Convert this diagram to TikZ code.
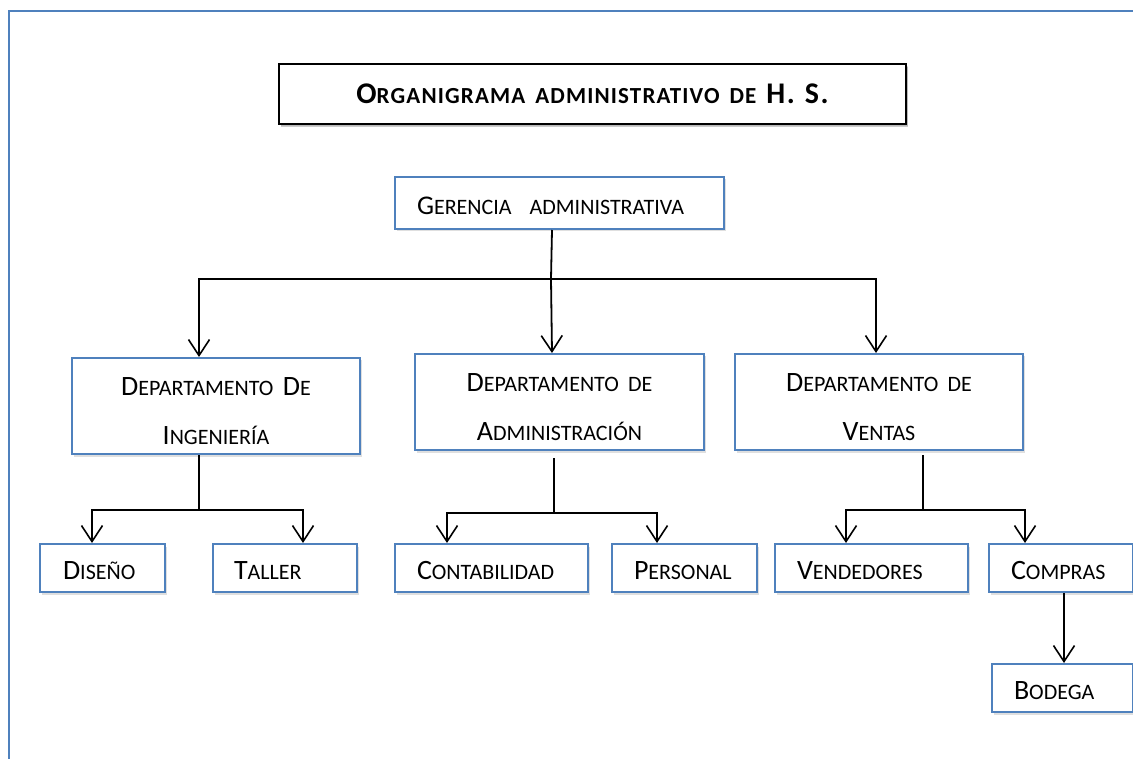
\documentclass[tikz,border=0pt]{standalone}
\usepackage{fontspec}
\setmainfont{Carlito}
\newfontfamily\titlefont{Carlito}[LetterSpace=5]
\usetikzlibrary{arrows.meta,shadows}
\definecolor{bblue}{RGB}{79,129,189}
\def\losz{22pt}
\newcommand\lo[1]{{\fontsize{\losz}{\losz}\selectfont #1}}
\tikzset{
  box/.style={draw=bblue, line width=2pt, fill=white,
    drop shadow={shadow xshift=1.5pt, shadow yshift=-2.5pt, opacity=.25},
    inner ysep=0pt, anchor=north west},
  titlebox/.style={box, draw=black, line width=2pt, inner xsep=0pt, align=center,
    font=\titlefont\bfseries\fontsize{30}{30}\selectfont\def\losz{23pt},
    text height=20pt, text depth=0pt, minimum height=60pt,
    drop shadow={shadow xshift=2pt, shadow yshift=-3pt, opacity=.4}},
  leaf/.style={box, align=left, text height=23pt, text depth=0pt, minimum height=48pt,
    font=\fontsize{28}{28}\selectfont\def\losz{22pt}},
  gerbox/.style={leaf, minimum height=52pt,
    font=\fontsize{27}{27}\selectfont\def\losz{22pt}},
  dept/.style={box, align=center, inner xsep=0pt, minimum height=96pt,
    font=\fontsize{28}{49}\selectfont\def\losz{22pt}},
  conn/.style={line width=1.8pt, black},
  arr/.style={conn, -{Straight Barb[length=16pt, width=21pt, line width=1.6pt]}}
}
\begin{document}
\begin{tikzpicture}[x=1pt, y=-1pt]
\useasboundingbox (0,0) rectangle (1133,759);
% outer frame
\draw[bblue, line width=2.6pt] (9,775) -- (9,11) -- (1150,11);

% title
\node[titlebox, text width=627pt] (tit) at (278,63) {O\lo{RGANIGRAMA ADMINISTRATIVO DE} H. S.};

% top
\node[gerbox, inner xsep=22pt, text width=285pt] (ger) at (394,176) {\mbox{G\lo{ERENCIA\ \ ADMINISTRATIVA}}};

% departments
\node[dept, text width=288pt] (ing) at (71,357) {\rule{0pt}{28pt}D\lo{EPARTAMENTO} D\lo{E}\\ I\lo{NGENIERÍA}};
\node[dept, text width=289pt] (adm) at (414,353) {\rule{0pt}{28pt}D\lo{EPARTAMENTO DE}\\ A\lo{DMINISTRACIÓN}};
\node[dept, text width=288pt] (ven) at (734,353) {\rule{0pt}{28pt}D\lo{EPARTAMENTO DE}\\ V\lo{ENTAS}};

% leaves
\node[leaf, inner xsep=23pt, text width=79pt] (dis) at (39,543) {\mbox{D\lo{ISEÑO}}};
\node[leaf, inner xsep=21pt, text width=102pt] (tal) at (212,543) {\mbox{T\lo{ALLER}}};
\node[leaf, inner xsep=22pt, text width=149pt] (con) at (394,543) {\mbox{C\lo{ONTABILIDAD}}};
\node[leaf, inner xsep=22pt, text width=101pt] (per) at (611,543) {\mbox{P\lo{ERSONAL}}};
\node[leaf, inner xsep=22pt, text width=149pt] (vnd) at (774,543) {\mbox{V\lo{ENDEDORES}}};
\node[leaf, inner xsep=22pt, text width=100pt] (com) at (988,543) {\mbox{C\lo{OMPRAS}}};
\node[leaf, inner xsep=22pt, text width=97pt] (bod) at (991,663) {\mbox{B\lo{ODEGA}}};

% connectors
\coordinate (b1) at (551,279);
\draw[conn] ([xshift=-7.5pt]ger.south) -- (b1);
\draw[arr] (b1) -| ([xshift=-17pt]ing.north);
\draw[arr] (b1) -- ([xshift=-7.5pt]adm.north);
\draw[arr] (b1) -| ([xshift=-3pt]ven.north);

\draw[conn] ([xshift=-17pt]ing.south) -- ++(0,55) coordinate (j1);
\draw[arr] (j1) -| ([xshift=-10.5pt]dis.north);
\draw[arr] (j1) -| ([xshift=18pt]tal.north);

\draw[conn] ([xshift=-5.5pt,yshift=-7pt]adm.south) -- ++(0,55) coordinate (j2);
\draw[arr] (j2) -| ([xshift=-44.5pt]con.north);
\draw[arr] (j2) -| ([xshift=-27.5pt]per.north);

\draw[conn] ([xshift=44pt,yshift=-4pt]ven.south) -- ++(0,55) coordinate (j3);
\draw[arr] (j3) -| ([xshift=-25.5pt]vnd.north);
\draw[arr] (j3) -| ([xshift=-36pt]com.north);

\draw[arr] ([xshift=3pt]com.south) -- ([xshift=1.5pt]bod.north);
\end{tikzpicture}
\end{document}
